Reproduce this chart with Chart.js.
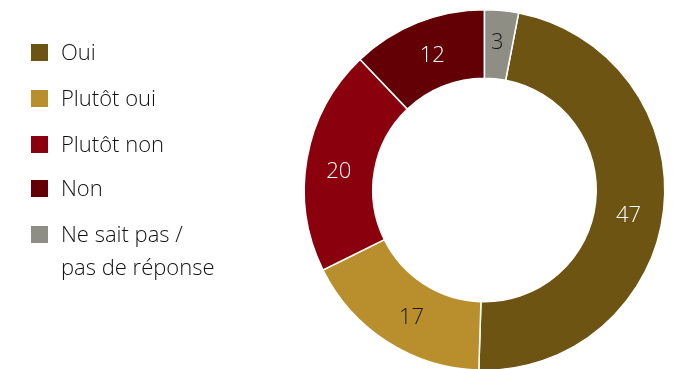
<!DOCTYPE html>
<html><head><meta charset="utf-8">
<script src="https://cdn.jsdelivr.net/npm/chart.js@4"></script>
<style>
html,body{margin:0;padding:0;width:675px;height:369px;overflow:hidden;background:#fff;font-family:"Open Sans",sans-serif;}
#wrap{position:absolute;left:0;top:0;width:675px;height:380px;}
#legend{position:absolute;left:31px;top:0;font-size:22px;color:#111;font-weight:300;}
.item{position:absolute;left:0;white-space:nowrap;}
.sw{position:absolute;left:0;width:17px;height:17px;}
.tx{position:absolute;left:30px;line-height:33px;}
</style></head><body>
<div id="wrap"><canvas id="c" width="675" height="380"></canvas></div>
<div id="legend"></div>
<script>
const categories = ["Oui", "Plutôt oui", "Plutôt non", "Non", "Ne sait pas / pas de réponse"];
const legendLines = [["Oui"], ["Plutôt oui"], ["Plutôt non"], ["Non"], ["Ne sait pas /", "pas de réponse"]];
const values = [47, 17, 20, 12, 3];
const colors = ["#6D5413", "#B98F2E", "#8A000C", "#630005", "#8E8E84"];
const labelColors = ["#ffffff", "#1a1a1a", "#ffffff", "#ffffff", "#1a1a1a"];

const total = values.reduce((a,b)=>a+b,0);
const legendY = [52, 98, 144, 188, 234];
const lg = document.getElementById('legend');
categories.forEach((c,i)=>{
  const it = document.createElement('div');
  it.className='item'; it.style.top=(legendY[i]-8.5)+'px';
  const sw=document.createElement('div'); sw.className='sw'; sw.style.background=colors[i];
  const tx=document.createElement('div'); tx.className='tx'; tx.style.top='-8.5px';
  tx.innerHTML = legendLines[i].join('<br>');
  it.appendChild(sw); it.appendChild(tx); lg.appendChild(it);
});

// small nudges of the in-slice labels, relative to the slice centre
const nudge = [[-1,10],[6,5],[-2,7],[2,1],[-1,-2]];
const labelPlugin = {
  id:'sliceLabels',
  afterDatasetsDraw(chart){
    const ctx=chart.ctx; const meta=chart.getDatasetMeta(0);
    ctx.save();
    ctx.font='300 22px "Open Sans", sans-serif';
    ctx.textAlign='center'; ctx.textBaseline='middle';
    meta.data.forEach((arc,i)=>{
      const p=arc.tooltipPosition();
      ctx.fillStyle=labelColors[i];
      ctx.fillText(String(values[i]), p.x+nudge[i][0], p.y+nudge[i][1]);
    });
    ctx.restore();
  }
};

new Chart(document.getElementById('c'), {
  type:'doughnut',
  data:{labels:categories, datasets:[{data:values, backgroundColor:colors, borderColor:'#ffffff', borderWidth:1.5}]},
  options:{
    responsive:false, animation:false, cutout:'62%',
    rotation: values[4]/total*360,
    layout:{padding:{left:303.5, right:9.5, top:9, bottom:9}},
    plugins:{legend:{display:false}, tooltip:{enabled:false}}
  },
  plugins:[labelPlugin]
});
</script>
</body></html>
